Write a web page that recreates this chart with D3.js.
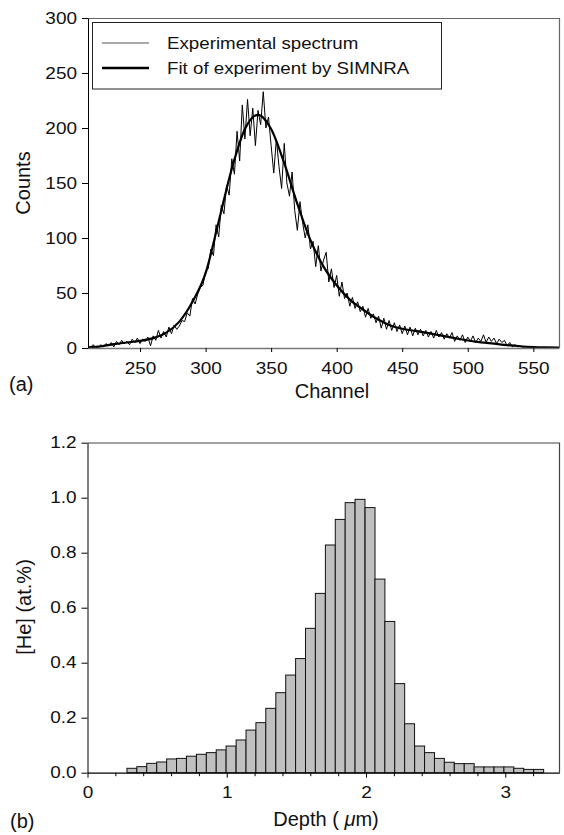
<!DOCTYPE html>
<html>
<head>
<meta charset="utf-8">
<script src="https://d3js.org/d3.v7.min.js"></script>
<style>
  body { margin: 0; background: white; }
  text { font-family: "Liberation Sans", Arial, sans-serif; }
</style>
</head>
<body>
<script>
"use strict";

// (a) measured spectrum, every second channel
var channels = [
  210,212,214,216,218,220,222,224,226,228,
  230,232,234,236,238,240,242,244,246,248,
  250,252,254,256,258,260,262,264,266,268,
  270,272,274,276,278,280,282,284,286,288,
  290,292,294,296,298,300,302,304,306,308,
  310,312,314,316,318,320,322,324,326,328,
  330,332,334,336,338,340,342,344,346,348,
  350,352,354,356,358,360,362,364,366,368,
  370,372,374,376,378,380,382,384,386,388,
  390,392,394,396,398,400,402,404,406,408,
  410,412,414,416,418,420,422,424,426,428,
  430,432,434,436,438,440,442,444,446,448,
  450,452,454,456,458,460,462,464,466,468,
  470,472,474,476,478,480,482,484,486,488,
  490,492,494,496,498,500,502,504,506,508,
  510,512,514,516,518,520,522,524,526,528,
  530,532,534,536,538,540,542,544,546,548
];
var counts = [
  2,0,3,1,0,3,1,4,2,5,
  1,6,3,7,4,6,3,8,5,9,
  4,8,6,10,2,11,7,16,9,15,
  10,19,13,21,17,20,25,24,32,29,
  45,40,49,55,57,70,72,90,84,112,
  101,130,122,148,139,172,158,197,170,221,
  190,226,193,218,184,216,203,233,200,210,
  184,159,190,165,145,186,150,138,160,125,
  107,133,114,100,112,90,97,74,93,70,
  80,87,60,72,55,66,47,60,45,50,
  38,46,36,42,33,38,28,36,27,31,
  23,29,18,27,17,25,16,23,15,21,
  13,20,12,19,11,18,12,17,11,16,
  10,15,9,16,10,14,8,13,9,14,
  6,11,7,12,5,10,6,11,5,9,
  6,12,5,10,6,9,4,8,5,7,
  2,5,1,3,1,2,0,1,0,1
];

// SIMNRA fit
var fitChannels = [210,220,230,240,250,260,270,280,290,300,310,320,330,340,350,360,370,380,390,
                   400,410,420,430,440,450,460,470,480,490,500,510,520,530,540,550,560,570];
var fitCounts = [0.5,1.5,3.5,5,6.5,9,14,24,42,68,115,163,199,212,199,168,131,98,74,
                 57,44,35,27,21,17.5,15.5,13.5,11.3,9,6.8,5.1,3.9,2.6,1.6,0.9,0.5,0.3];

var xTicksA = [250,300,350,400,450,500,550];
var yTicksA = [0,50,100,150,200,250,300];
var legendLabels = ["Experimental spectrum", "Fit of experiment by SIMNRA"];

// (b) He depth profile, bin centres in um
var depth = [
  0.319,0.390,0.461,0.533,0.604,0.675,0.746,0.818,0.889,0.960,
  1.031,1.103,1.174,1.245,1.316,1.388,1.459,1.530,1.601,1.672,
  1.744,1.815,1.886,1.957,2.029,2.100,2.171,2.242,2.313,2.385,
  2.456,2.527,2.598,2.670,2.741,2.812,2.883,2.955,3.026,3.097,
  3.168,3.240
];
var heConc = [
  0.016,0.022,0.034,0.039,0.050,0.052,0.060,0.067,0.073,0.083,
  0.097,0.119,0.155,0.182,0.234,0.291,0.355,0.415,0.525,0.652,
  0.828,0.921,0.982,0.994,0.964,0.704,0.550,0.324,0.178,0.097,
  0.073,0.052,0.038,0.033,0.033,0.021,0.021,0.021,0.021,0.016,
  0.012,0.012
];
var binWidth = 0.0713;
var xTicksB = [0,1,2,3];
var xMinorB = [0.2,0.4,0.6,0.8,1.2,1.4,1.6,1.8,2.2,2.4,2.6,2.8,3.2];
var yTicksB = [0,0.2,0.4,0.6,0.8,1.0,1.2];

var font = '"Liberation Sans", Arial, sans-serif';

var svg = d3.select("body").append("svg")
    .attr("width", 564)
    .attr("height", 835);

// widen text horizontally around its anchor point
function stretch(sel, k) {
  sel.attr("transform", function () {
    var x = +this.getAttribute("x") || 0;
    var y = +this.getAttribute("y") || 0;
    return "translate(" + x + "," + y + ") scale(" + k + ",1) translate(" + (-x) + "," + (-y) + ")";
  });
}

function styleAxis(g, size, k) {
  g.attr("font-family", font).attr("font-size", size);
  g.selectAll("text").attr("fill", "#111").call(stretch, k);
}

// ---------- panel (a) ----------
var xa = d3.scaleLinear().domain([210.3, 569.6]).range([88, 559]);
var ya = d3.scaleLinear().domain([0, 300]).range([348, 18]);

svg.append("defs").append("clipPath")
    .attr("id", "clipA")
  .append("rect")
    .attr("x", 88).attr("y", 18)
    .attr("width", 471).attr("height", 330);

// frame top / right
svg.append("path")
    .attr("d", "M88,18.5H559.5V348")
    .attr("fill", "none")
    .attr("stroke", "#666")
    .attr("stroke-width", 1.2);

var specLine = d3.line()
    .x(function (d) { return xa(d[0]); })
    .y(function (d) { return ya(d[1]); });

var fitLine = d3.line()
    .curve(d3.curveMonotoneX)
    .x(function (d) { return xa(d[0]); })
    .y(function (d) { return ya(d[1]); });

var plotA = svg.append("g").attr("clip-path", "url(#clipA)");

plotA.append("path")
    .datum(d3.zip(channels, counts))
    .attr("d", specLine)
    .attr("fill", "none")
    .attr("stroke", "#000")
    .attr("stroke-width", 1);

plotA.append("path")
    .datum(d3.zip(fitChannels, fitCounts))
    .attr("d", fitLine)
    .attr("fill", "none")
    .attr("stroke", "#000")
    .attr("stroke-width", 2.2);

var xAxisA = svg.append("g")
    .attr("transform", "translate(0,348)")
    .call(d3.axisBottom(xa).tickValues(xTicksA).tickSize(4).tickPadding(10).tickSizeOuter(0));
xAxisA.select(".domain").attr("stroke", "#777").attr("stroke-width", 1.6);
xAxisA.call(styleAxis, 16.5, 1.15);

var yAxisA = svg.append("g")
    .attr("transform", "translate(88,0)")
    .call(d3.axisLeft(ya).tickValues(yTicksA).tickSize(6).tickPadding(5).tickSizeOuter(0));
yAxisA.select(".domain").attr("stroke", "#000");
yAxisA.call(styleAxis, 16.5, 1.15);

// legend
var legend = svg.append("g");
legend.append("rect")
    .attr("x", 92.5).attr("y", 22.5)
    .attr("width", 349).attr("height", 66.5)
    .attr("fill", "white")
    .attr("stroke", "#222")
    .attr("stroke-width", 1);

legendLabels.forEach(function (label, i) {
  var y = 43 + i * 25;
  legend.append("line")
      .attr("x1", 102).attr("x2", 149)
      .attr("y1", y).attr("y2", y)
      .attr("stroke", i === 0 ? "#555" : "#000")
      .attr("stroke-width", i === 0 ? 1 : 2.4);
  legend.append("text")
      .attr("x", 167).attr("y", y + 6)
      .attr("font-size", 16)
      .attr("fill", "#111")
      .text(label)
      .call(stretch, 1.17);
});

svg.append("text")
    .attr("transform", "translate(30,183) rotate(-90)")
    .attr("text-anchor", "middle")
    .attr("font-size", 20)
    .attr("fill", "#111")
    .text("Counts");

svg.append("text")
    .attr("x", 332).attr("y", 398)
    .attr("text-anchor", "middle")
    .attr("font-size", 20)
    .attr("fill", "#111")
    .text("Channel");

svg.append("text")
    .attr("x", 9).attr("y", 391)
    .attr("font-size", 20)
    .attr("fill", "#111")
    .text("(a)");

// ---------- panel (b) ----------
var xb = d3.scaleLinear().domain([0, 3.388]).range([87.5, 559.3]);
var yb = d3.scaleLinear().domain([0, 1.2]).range([772.7, 442.7]);

svg.append("path")
    .attr("d", "M87.5,443H559.5V772.7")
    .attr("fill", "none")
    .attr("stroke", "#444")
    .attr("stroke-width", 1.2);

svg.append("g").selectAll("rect")
    .data(d3.zip(depth, heConc))
    .join("rect")
    .attr("x", function (d) { return xb(d[0] - binWidth / 2); })
    .attr("y", function (d) { return yb(d[1]); })
    .attr("width", xb(binWidth) - xb(0))
    .attr("height", function (d) { return yb(0) - yb(d[1]); })
    .attr("fill", "#c0c0c0")
    .attr("stroke", "#111")
    .attr("stroke-width", 1);

svg.append("g")
    .attr("transform", "translate(0,772.7)")
    .call(d3.axisBottom(xb).tickValues(xMinorB).tickSize(3.5).tickFormat("").tickSizeOuter(0))
    .select(".domain").remove();

var xAxisB = svg.append("g")
    .attr("transform", "translate(0,772.7)")
    .call(d3.axisBottom(xb).tickValues(xTicksB).tickSize(5).tickPadding(9).tickSizeOuter(0)
      .tickFormat(d3.format("d")));
xAxisB.select(".domain").attr("stroke", "#000").attr("stroke-width", 1.2);
xAxisB.call(styleAxis, 16.5, 1.15);

var yAxisB = svg.append("g")
    .attr("transform", "translate(87.5,0)")
    .call(d3.axisLeft(yb).tickValues(yTicksB).tickSize(6).tickPadding(5).tickSizeOuter(0)
      .tickFormat(d3.format(".1f")));
yAxisB.select(".domain").attr("stroke", "#000");
yAxisB.call(styleAxis, 16.5, 1.15);

svg.append("text")
    .attr("transform", "translate(31,607) rotate(-90)")
    .attr("text-anchor", "middle")
    .attr("font-size", 20)
    .attr("fill", "#111")
    .text("[He] (at.%)");

var depthTitle = svg.append("text")
    .attr("x", 326).attr("y", 826)
    .attr("text-anchor", "middle")
    .attr("font-size", 20)
    .attr("fill", "#111");
depthTitle.append("tspan").text("Depth ( ");
depthTitle.append("tspan").attr("font-style", "italic").text("\u03bc");
depthTitle.append("tspan").text("m)");

svg.append("text")
    .attr("x", 10).attr("y", 828)
    .attr("font-size", 20)
    .attr("fill", "#111")
    .text("(b)");
</script>
</body>
</html>
